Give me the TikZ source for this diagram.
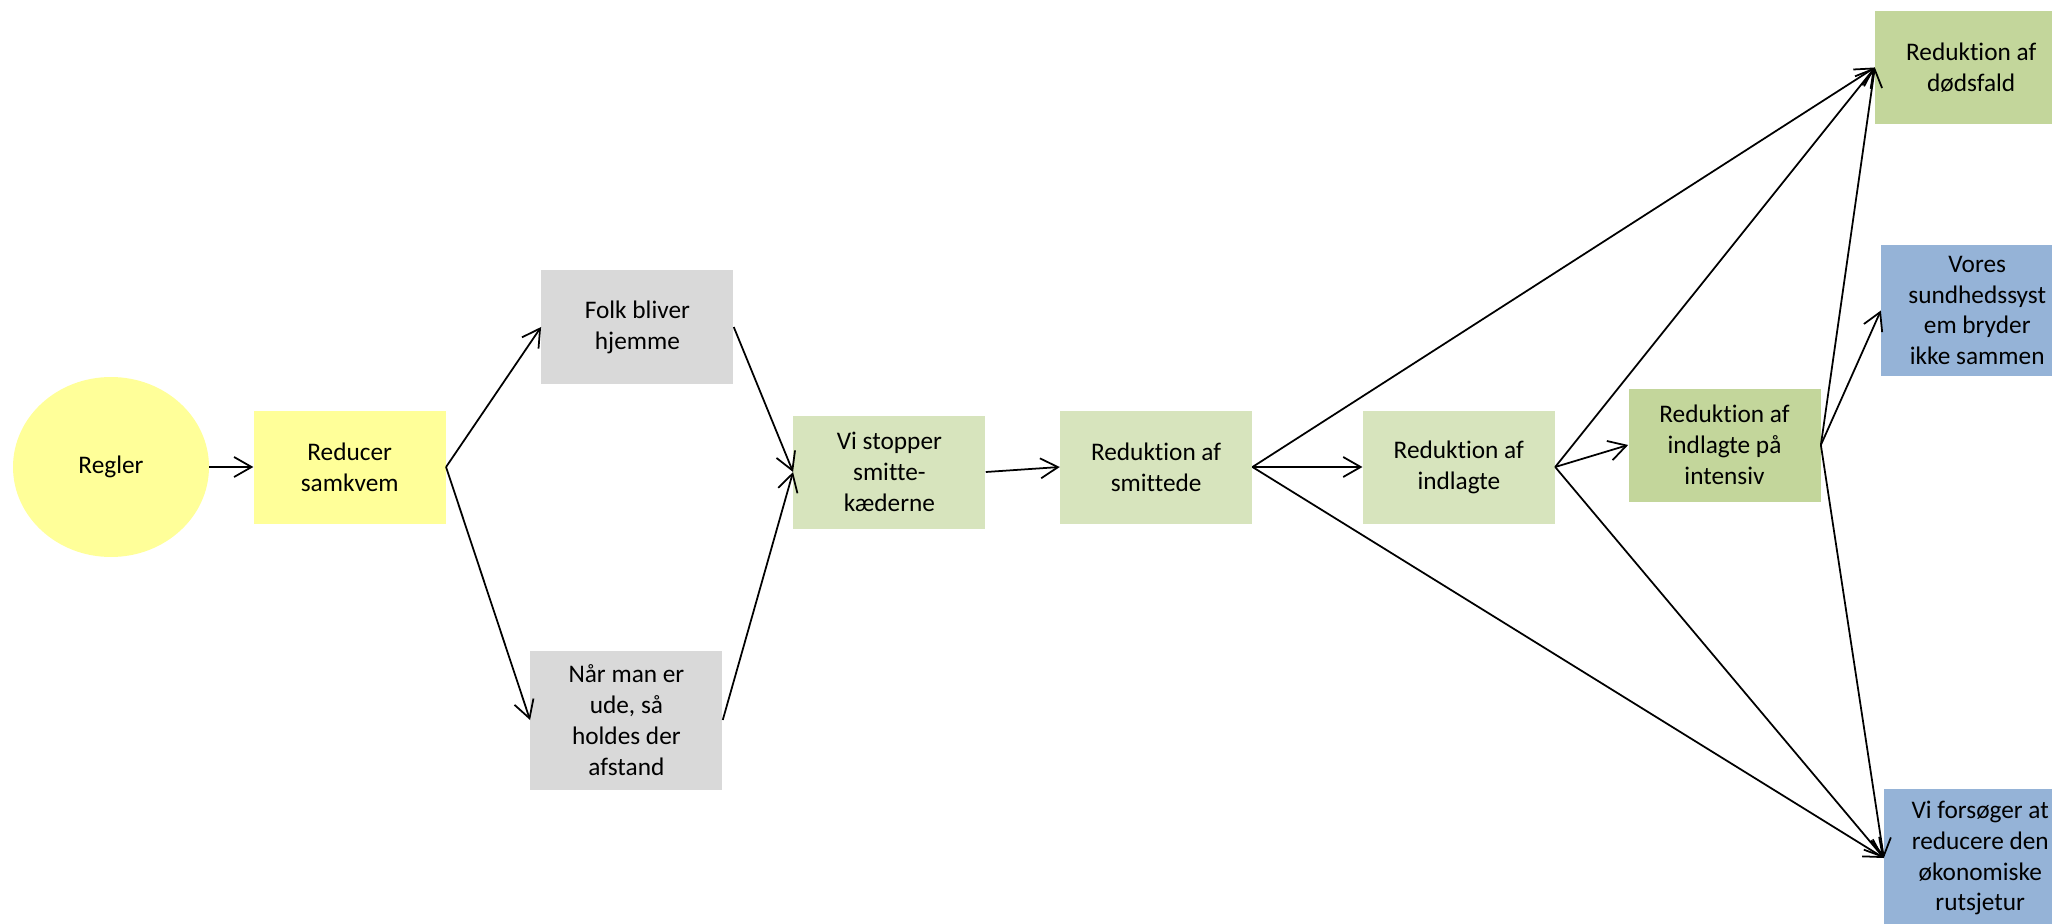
\documentclass[tikz,border=0pt]{standalone}
\usepackage{fontspec}
\setmainfont{Carlito}[Ligatures=NoCommon]
\usetikzlibrary{positioning,arrows.meta,shapes.geometric}
\definecolor{gul}{HTML}{FFFF99}
\definecolor{graa}{HTML}{D9D9D9}
\definecolor{lysgroen}{HTML}{D7E4BD}
\definecolor{groen}{HTML}{C3D69B}
\definecolor{blaa}{HTML}{95B3D7}

\begin{document}
\begin{tikzpicture}[
						font=\fontsize{14.4}{17.6}\selectfont,
						start/.style={ellipse, fill=gul, minimum width=3.92cm, minimum height=3.6cm, inner sep=0pt},
						boks/.style={rectangle, minimum width=3.84cm, minimum height=2.26cm, inner sep=0pt, align=center},
						hoej/.style={boks, minimum height=2.78cm}
					]
					\useasboundingbox (0,0) rectangle (41.04,-18.48);
					\node[start] (regler) at (2.22,-9.34) {Regler};
					\node[boks, fill=gul] (reducer) [right=0.88cm of regler] {Reducer\\samkvem};
					\node[boks, fill=graa] (folk) [right=1.9cm of reducer, yshift=2.8cm] {Folk bliver\\hjemme};
					\node[hoej, fill=graa] (naar) [right=1.68cm of reducer, yshift=-5.06cm] {Når man er\\ude, så\\holdes der\\afstand};
					\node[boks, fill=lysgroen] (stopper) [right=6.94cm of reducer, yshift=-0.1cm] {Vi stopper\\smitte-\\kæderne};
					\node[boks, fill=lysgroen] (smittede) [right=1.48cm of stopper, yshift=0.1cm] {Reduktion af\\smittede};
					\node[boks, fill=lysgroen] (indlagte) [right=2.2cm of smittede] {Reduktion af\\indlagte};
					\node[boks, fill=groen] (intensiv) [right=1.46cm of indlagte, yshift=0.44cm] {Reduktion af\\indlagte på\\intensiv};
					\node[boks, fill=groen] (doed) [right=1.08cm of intensiv, yshift=7.55cm] {Reduktion af\\dødsfald};
					\node[boks, fill=blaa, minimum height=2.62cm] (vores) [right=1.2cm of intensiv, yshift=2.69cm] {Vores\\sundhedssyst\\em bryder\\ikke sammen};
					\node[hoej, fill=blaa] (forsoeg) [right=1.26cm of intensiv, yshift=-8.26cm] {Vi forsøger at\\reducere den\\økonomiske\\rutsjetur};
					\begin{scope}[line width=1pt, -{Straight Barb[length=3.5mm, width=4mm]}]
					\draw (regler.east) -- (reducer.west);
					\draw (reducer.east) -- (folk.west);
					\draw (reducer.east) -- (naar.west);
					\draw (folk.east) -- (stopper.west);
					\draw (naar.east) -- (stopper.west);
					\draw (stopper.east) -- (smittede.west);
					\draw (smittede.east) -- (indlagte.west);
					\draw (smittede.east) -- (doed.west);
					\draw (smittede.east) -- (forsoeg.west);
					\draw (indlagte.east) -- (intensiv.west);
					\draw (indlagte.east) -- (doed.west);
					\draw (indlagte.east) -- (forsoeg.west);
					\draw (intensiv.east) -- (doed.west);
					\draw (intensiv.east) -- (vores.west);
					\draw (intensiv.east) -- (forsoeg.west);
					\end{scope}
					\end{tikzpicture}
\end{document}
